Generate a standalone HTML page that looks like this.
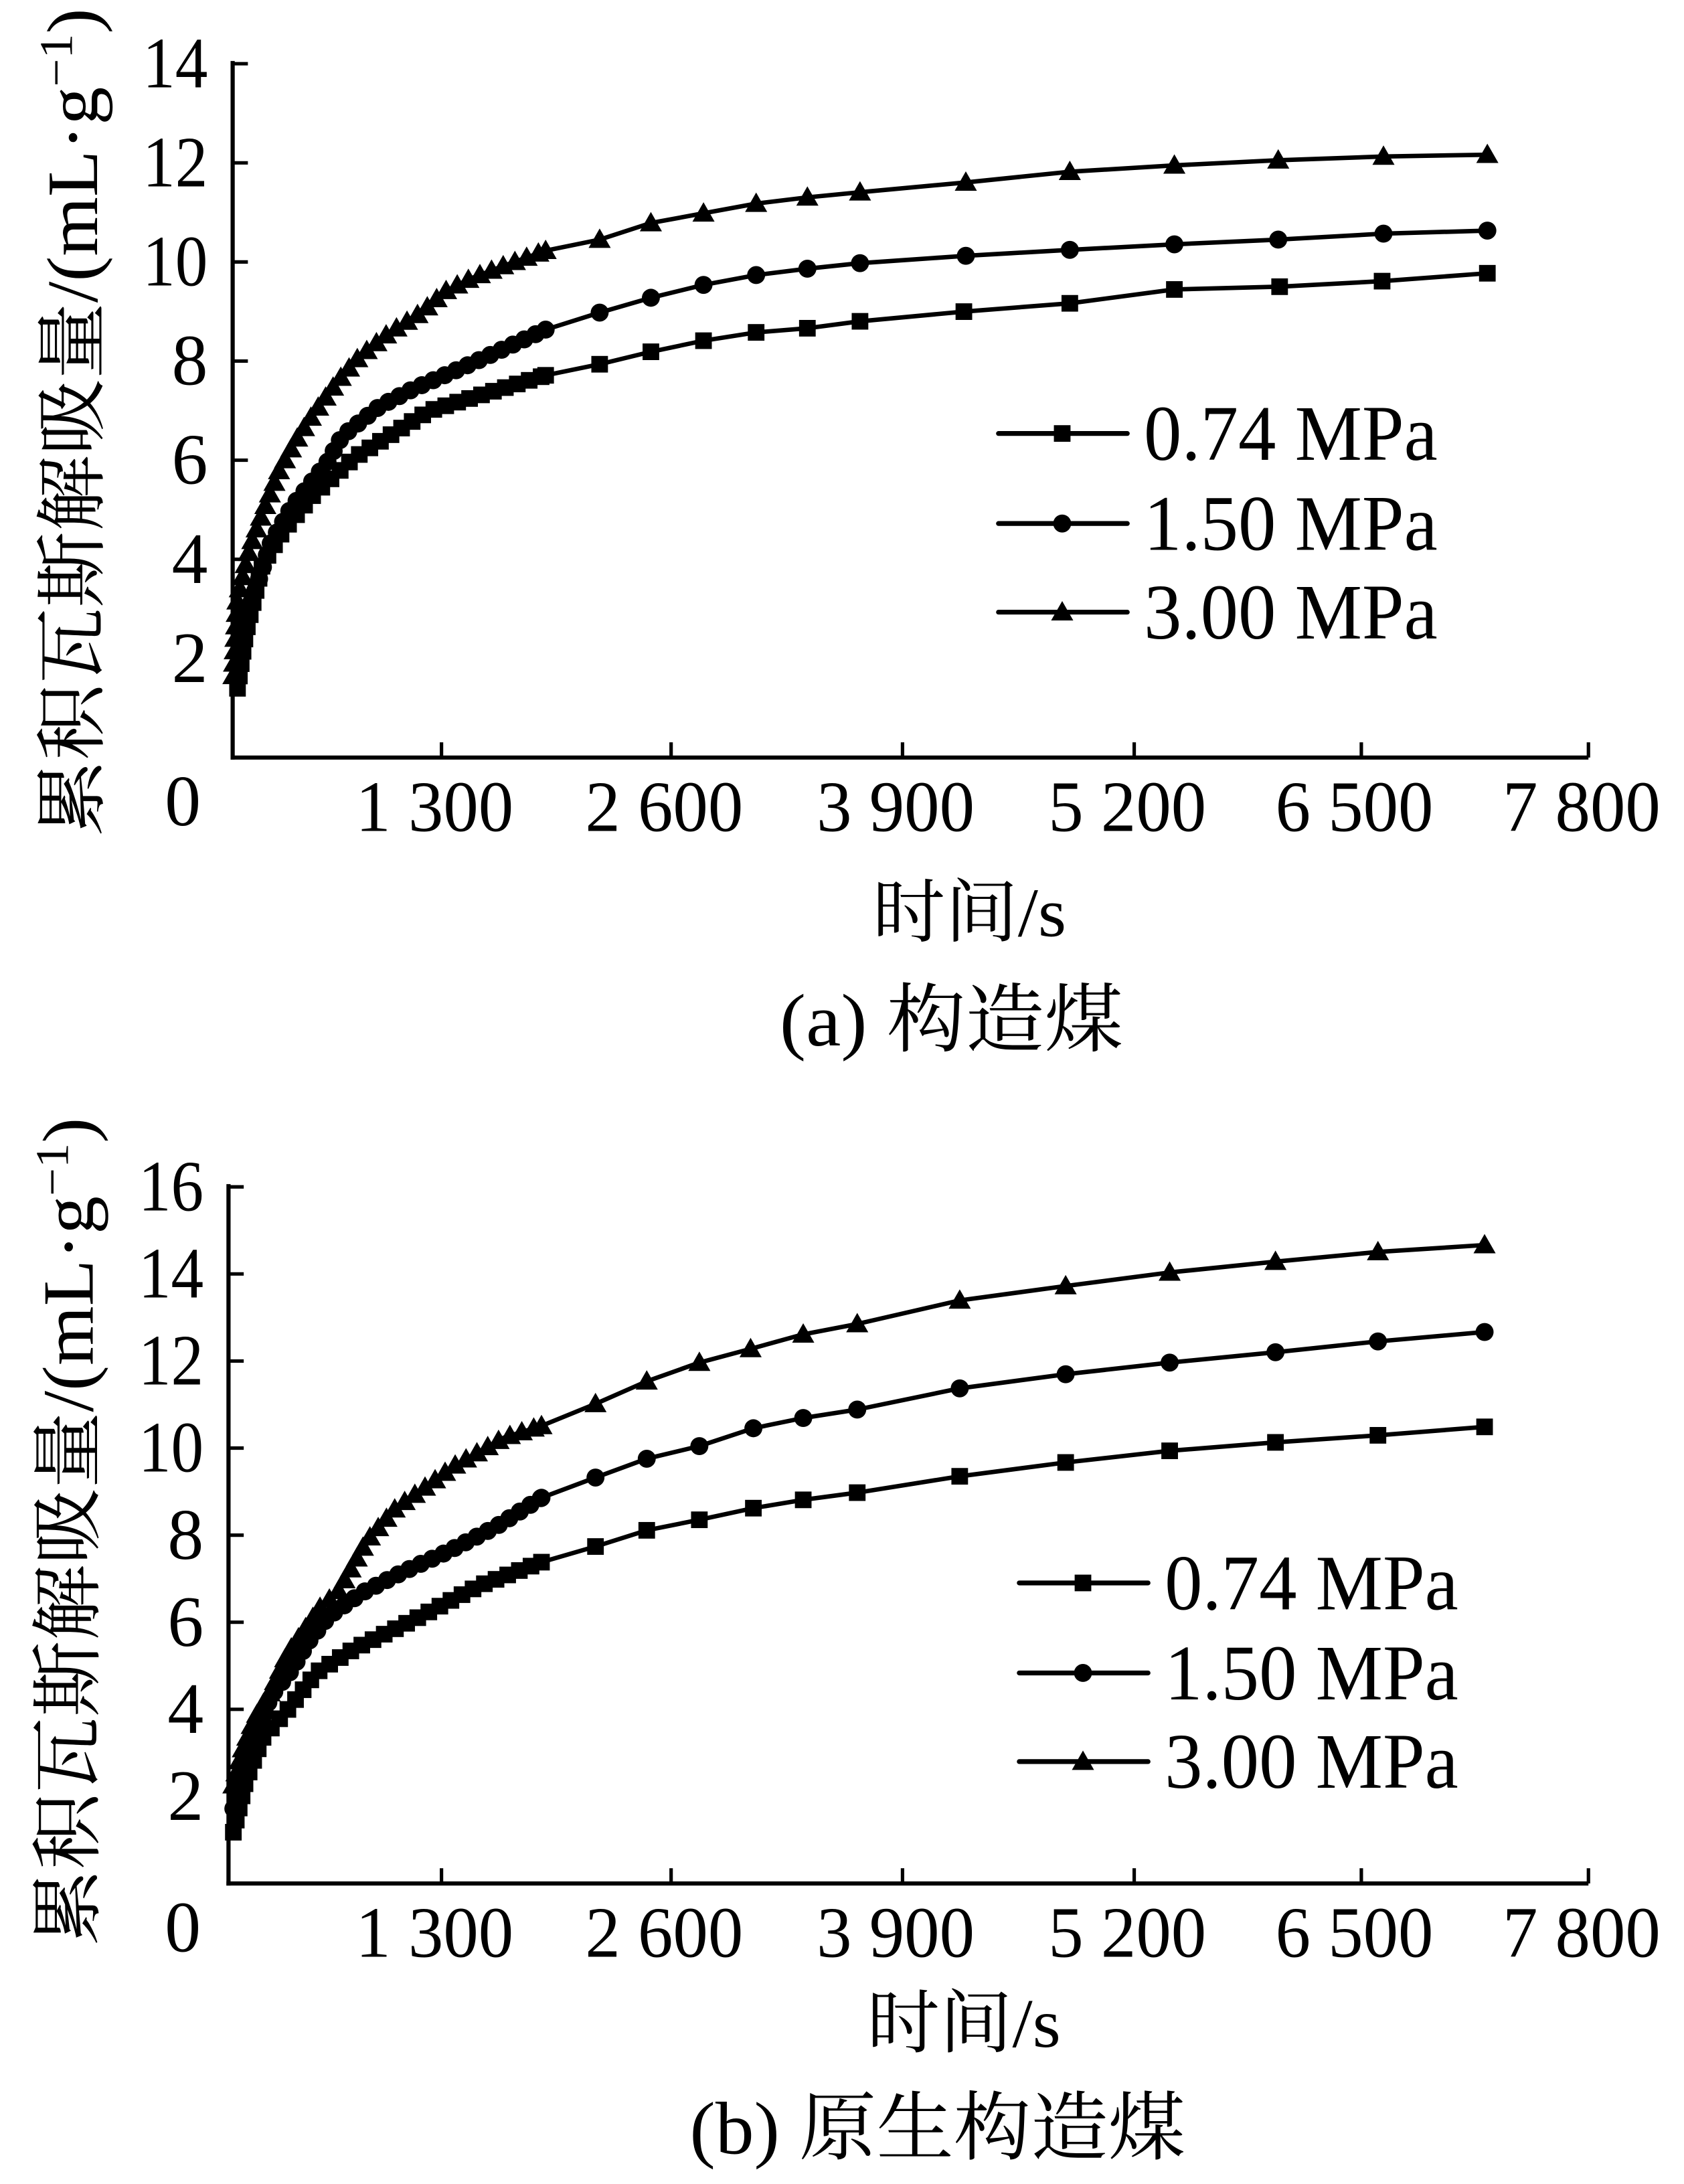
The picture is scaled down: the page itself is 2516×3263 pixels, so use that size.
<!DOCTYPE html>
<html><head><meta charset="utf-8"><style>
html,body{margin:0;padding:0;background:#fff}
svg{display:block}
text{font-family:"Liberation Serif","Noto Serif CJK SC",serif;fill:#000}
</style></head><body>
<svg id="s" width="2516" height="3263" viewBox="0 0 1216 1577" xmlns="http://www.w3.org/2000/svg">
<g id="g"></g>
</svg>
<script>
const g=document.getElementById('g');const NS='http://www.w3.org/2000/svg';
function el(t,a,txt){const e=document.createElementNS(NS,t);for(const k in a)e.setAttribute(k,a[k]);if(txt!==undefined)e.textContent=txt;g.appendChild(e);return e;}
function marker(type,x,y){
 if(type==='s')el('rect',{x:x-6,y:y-6,width:12,height:12,fill:'#000'});
 else if(type==='c')el('circle',{cx:x,cy:y,r:6.5,fill:'#000'});
 else el('polygon',{points:`${x},${y-8} ${x-8},${y+6} ${x+8},${y+6}`,fill:'#000'});
}
function series(pts,type,denseEnd){
 pts.sort((a,b)=>a[0]-b[0]);
 el('polyline',{points:pts.map(p=>p.join(',')).join(' '),fill:'none',stroke:'#000','stroke-width':3.2,'stroke-linejoin':'round'});
 let acc=0;
 for(let i=1;i<pts.length;i++){
  const [x0,y0]=pts[i-1],[x1,y1]=pts[i];
  if(x0>=denseEnd)break;
  const L=Math.hypot(x1-x0,y1-y0);
  let d=acc;
  while(d<L){const t=d/L;const x=x0+(x1-x0)*t;if(x>denseEnd)break;marker(type,x,y0+(y1-y0)*t);d+=9;}
  acc=d-L;
 }
 pts.forEach(p=>{if(p[0]>=denseEnd-3)marker(type,p[0],p[1]);});
}
function chart(o){
 const {ax,ytop,ybot,ymax,ylabR,xlabY,legX,legY}=o;
 const xt=[318.8,484.6,651.7,819,983,1147];
 el('line',{x1:ax,y1:ytop-2,x2:ax,y2:ybot+1.5,stroke:'#000','stroke-width':3});
 el('line',{x1:ax-1.5,y1:ybot,x2:1147,y2:ybot,stroke:'#000','stroke-width':3});
 const n=ymax/2;
 for(let i=1;i<=n;i++){const y=ybot-(ybot-ytop)*i/n;
  el('line',{x1:ax,y1:y,x2:ax+11,y2:y,stroke:'#000','stroke-width':2.5});
  const s=String(i*2);
  const a={x:ylabR,y:y+17,'font-size':52,'text-anchor':'end'};
  if(s.length===2){a.textLength=47;a.lengthAdjust='spacingAndGlyphs';}
  el('text',a,s);
 }
 el('text',{x:132,y:xlabY-4,'font-size':52,'text-anchor':'middle'},'0');
 const labs=['1 300','2 600','3 900','5 200','6 500','7 800'];
 xt.forEach((x,i)=>{el('line',{x1:x,y1:ybot,x2:x,y2:ybot-11,stroke:'#000','stroke-width':2.5});
  el('text',{x:x-5,y:xlabY,'font-size':52,'text-anchor':'middle',textLength:114,lengthAdjust:'spacingAndGlyphs'},labs[i]);});
 ['0.74 MPa','1.50 MPa','3.00 MPa'].forEach((t,i)=>{const y=legY[i];
  el('line',{x1:legX,y1:y,x2:legX+93,y2:y,stroke:'#000','stroke-width':3.5,'stroke-linecap':'round'});
  marker(['s','c','t'][i],legX+46,y);
  el('text',{x:legX+105,y:y+19,'font-size':57,textLength:212,lengthAdjust:'spacingAndGlyphs'},t);});
}
function ytitle(cx,cy){
 const t=el('text',{x:0,y:0,'font-size':52,'text-anchor':'middle',transform:`translate(${cx},${cy}) rotate(-90)`,textLength:598,lengthAdjust:'spacingAndGlyphs'});
 t.innerHTML='累积瓦斯解吸量/(mL·g<tspan dy="-18" font-size="34">−1</tspan><tspan dy="18">)</tspan>';
}
// top
chart({ax:168,ytop:46,ybot:547,ymax:14,ylabR:150,xlabY:600,legX:721,legY:[313,378,442]});
series([[171.5,497],[177.5,457],[189.5,407.5],[204.6,383],[225.6,358],[255.7,330.5],[310,296.6],[394,271],[433,263],[470,254],[508,246],[546,240],[583,237],[621,232],[696,225],[772.5,219],[848,209],[924,207],[998,203],[1074,197.3]],'s',394);
series([[171.5,488],[177.5,446],[183.5,429],[189.5,410.6],[195.6,392],[210.6,366],[219.6,355],[236.4,333.6],[247,315],[274,293.5],[298,281],[340,262.7],[394,238],[433,225.7],[470,215],[508,205.7],[546,198.6],[583,194],[621,190],[697.4,184.7],[772.5,180.4],[848,176.4],[923,173],[999,168.7],[1074,166.5]],'c',394);
series([[168.5,488],[171.5,432],[180.5,395],[189.5,370.5],[201.6,339.7],[213.6,318],[225.6,299.7],[244,275],[259,258],[280,241],[304,225.7],[322,210],[340,201],[364,191.8],[394,181],[433,173],[470,161],[508,154],[546,147],[583,142.5],[621,138.8],[697.4,131.7],[772.5,124],[848,119.4],[923,115.7],[999,113],[1074,111.7]],'t',394);
el('text',{x:700,y:676,'font-size':50,'text-anchor':'middle',textLength:140,lengthAdjust:'spacingAndGlyphs'},'时间/s');
el('text',{x:687,y:755,'font-size':54,'text-anchor':'middle',textLength:248,lengthAdjust:'spacingAndGlyphs'},'(a)  构造煤');
ytitle(70,305);
// bottom
chart({ax:165,ytop:857,ybot:1360,ymax:16,ylabR:147,xlabY:1413,legX:736,legY:[1143,1208,1272]});
series([[168.5,1323],[177.5,1285.6],[189.5,1255],[207.6,1234.7],[228.6,1207.6],[255.7,1190.6],[298,1170],[346,1145],[391,1128],[430,1116.7],[467,1105],[505,1097.4],[544,1089],[580,1083],[619,1077.8],[693,1066],[769.5,1056],[844.6,1047.6],[921,1041.5],[995,1036.4],[1072,1030.3]],'s',391);
series([[168.5,1306],[177.5,1268.6],[186.5,1248.3],[195.6,1224.6],[210.6,1205.9],[222.6,1185.6],[237.6,1166.9],[261.7,1150],[291.7,1134.7],[322,1121],[358,1102.5],[391,1081.5],[430,1066.9],[467,1053.3],[505,1044.2],[544,1031.3],[580,1023.9],[619,1017.8],[693,1002.5],[769.5,992.3],[844.6,983.9],[921,976.4],[995,968.6],[1072,961.8]],'c',391);
series([[168.5,1289],[174.5,1265],[183.5,1241.5],[195.6,1221],[207.6,1194],[219.6,1177],[231.6,1160],[243.6,1150],[264.7,1112.7],[285.7,1089],[309.7,1072],[328,1058.4],[346,1048.3],[364,1038],[391,1029.6],[430,1013.7],[467,997.4],[505,983.9],[542,974],[580,963.5],[619,956],[693,939],[769.5,928.6],[844.6,918.8],[921,911],[995,904],[1072,899]],'t',391);
el('text',{x:696,y:1478,'font-size':50,'text-anchor':'middle',textLength:140,lengthAdjust:'spacingAndGlyphs'},'时间/s');
el('text',{x:677,y:1555,'font-size':54,'text-anchor':'middle',textLength:358,lengthAdjust:'spacingAndGlyphs'},'(b)  原生构造煤');
ytitle(67,1106);
</script>
</body></html>
